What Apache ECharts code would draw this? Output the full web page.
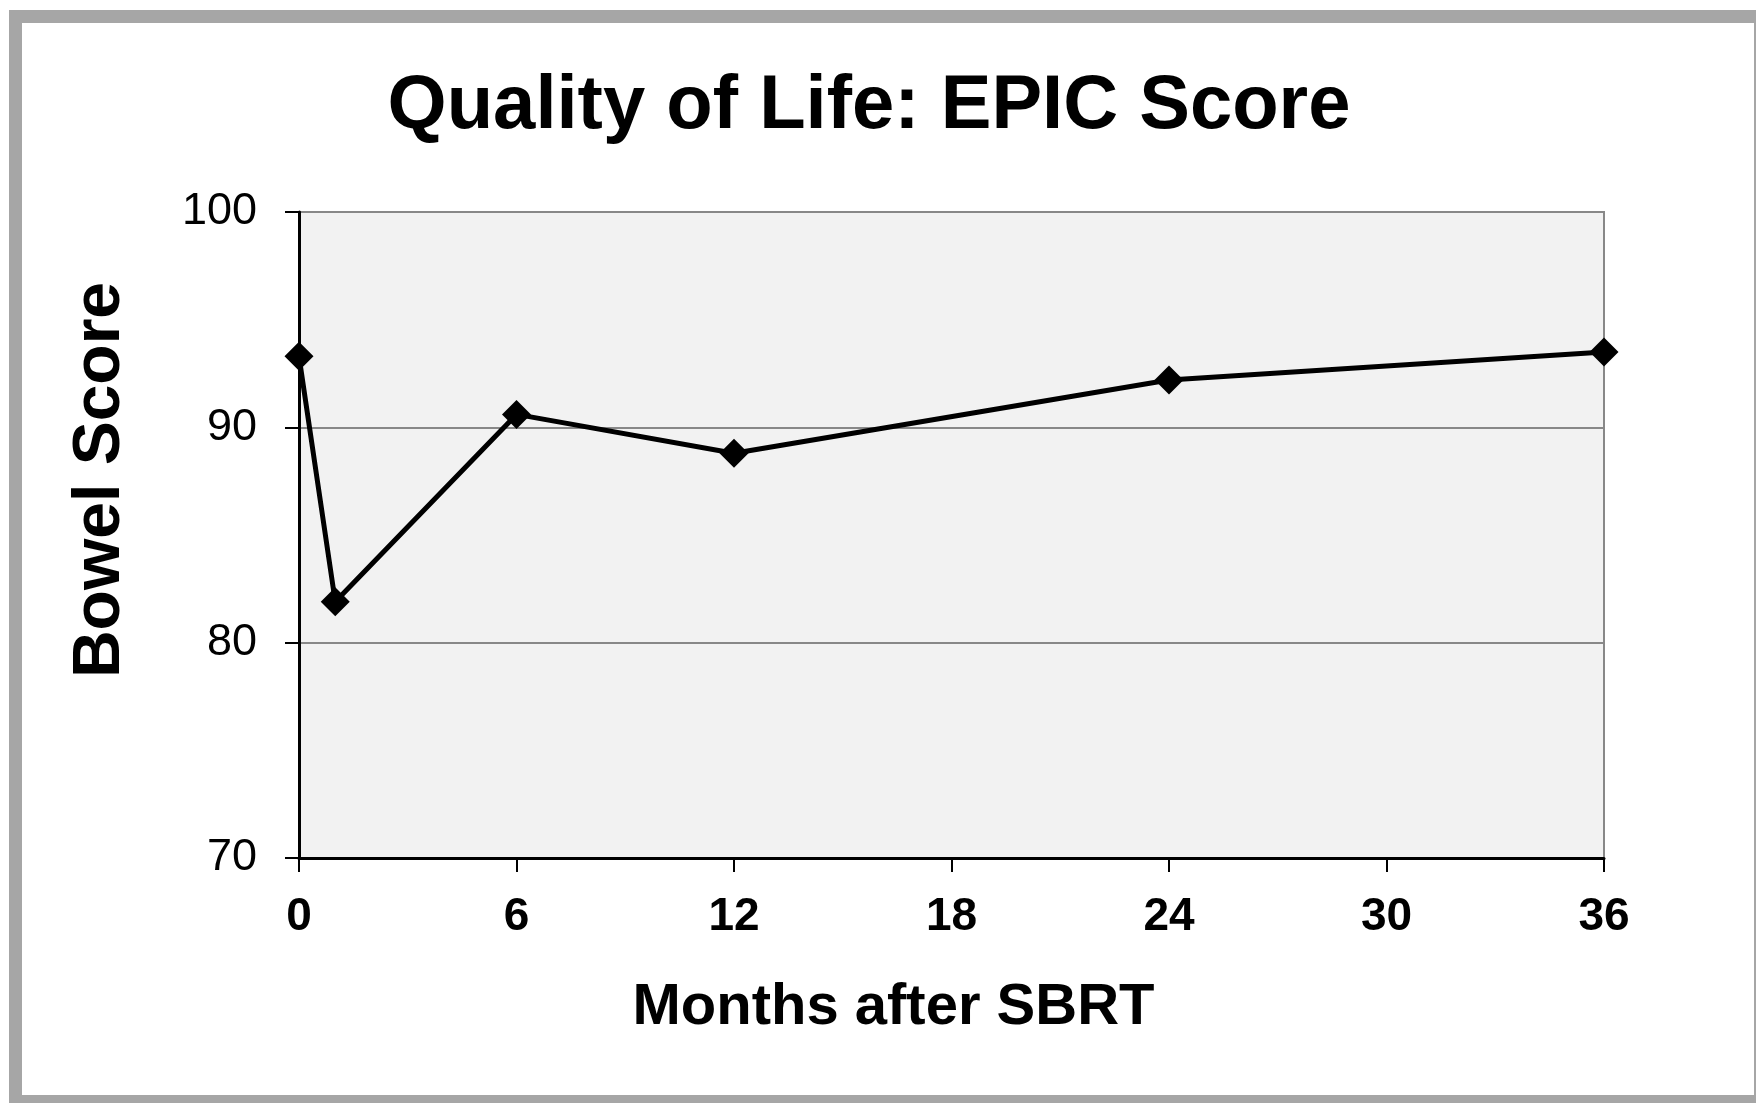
<!DOCTYPE html>
<html>
<head>
<meta charset="utf-8">
<script src="https://cdn.jsdelivr.net/npm/echarts@6/dist/echarts.min.js"></script>
<style>
  html, body { margin: 0; padding: 0; background: #fff; }
  #frame { position: absolute; left: 9px; top: 10px; width: 1747px; height: 1093px;
           border-left: 13px solid #a6a6a6; border-top: 13px solid #a6a6a6;
           border-bottom: 8px solid #a6a6a6; border-right: 2px solid #a6a6a6; box-sizing: border-box; }
  #chart { position: absolute; left: 0; top: 0; width: 1756px; height: 1103px; }
</style>
</head>
<body>
<div id="frame"></div>
<div id="chart"></div>
<script>
// months after SBRT and bowel score
var months = [0, 1, 6, 12, 24, 36];
var bowelScore = [93.3, 81.9, 90.6, 88.8, 92.2, 93.5];
var xTicks = [0, 6, 12, 18, 24, 30, 36];
var yTicks = [70, 80, 90, 100];

var font = 'Liberation Sans, Arial, sans-serif';
var chart = echarts.init(document.getElementById('chart'));

var points = months.map(function (m, i) { return [m, bowelScore[i]]; });

var option = {
  animation: false,
  title: {
    text: 'Quality of Life: EPIC Score',
    left: 864,
    textAlign: 'center',
    top: 64,
    textStyle: { fontFamily: font, fontWeight: 'bold', fontSize: 76, color: '#000' }
  },
  grid: {
    left: 299, top: 212, right: 152, bottom: 245,
    show: true, backgroundColor: '#f2f2f2', borderColor: '#888', borderWidth: 2
  },
  xAxis: {
    type: 'value',
    min: xTicks[0], max: xTicks[xTicks.length - 1], interval: 6,
    name: 'Months after SBRT',
    nameLocation: 'middle',
    nameGap: 121,
    nameTextStyle: { fontFamily: font, fontWeight: 'bold', fontSize: 58, color: '#000', padding: [0, 116, 0, 0] },
    axisLine: { lineStyle: { color: '#000', width: 3 } },
    axisTick: { length: 14, lineStyle: { color: '#000', width: 2 } },
    axisLabel: { fontFamily: font, fontWeight: 'bold', fontSize: 46, color: '#000', margin: 36 },
    splitLine: { show: false }
  },
  yAxis: {
    type: 'value',
    min: yTicks[0], max: yTicks[yTicks.length - 1], interval: 10,
    name: 'Bowel Score',
    nameLocation: 'middle',
    nameGap: 165,
    nameRotate: 90,
    nameTextStyle: { fontFamily: font, fontWeight: 'bold', fontSize: 66, color: '#000', padding: [0, 0, 0, 110] },
    axisLine: { show: true, lineStyle: { color: '#000', width: 3 } },
    axisTick: { show: true, length: 14, lineStyle: { color: '#000', width: 2 } },
    axisLabel: { fontFamily: font, fontSize: 45, color: '#000', margin: 42 },
    splitLine: { lineStyle: { color: '#888', width: 2 } }
  },
  series: [{
    type: 'line',
    data: points,
    symbol: 'diamond',
    symbolSize: 29,
    itemStyle: { color: '#000' },
    lineStyle: { color: '#000', width: 5 }
  }]
};
chart.setOption(option);
</script>
</body>
</html>
